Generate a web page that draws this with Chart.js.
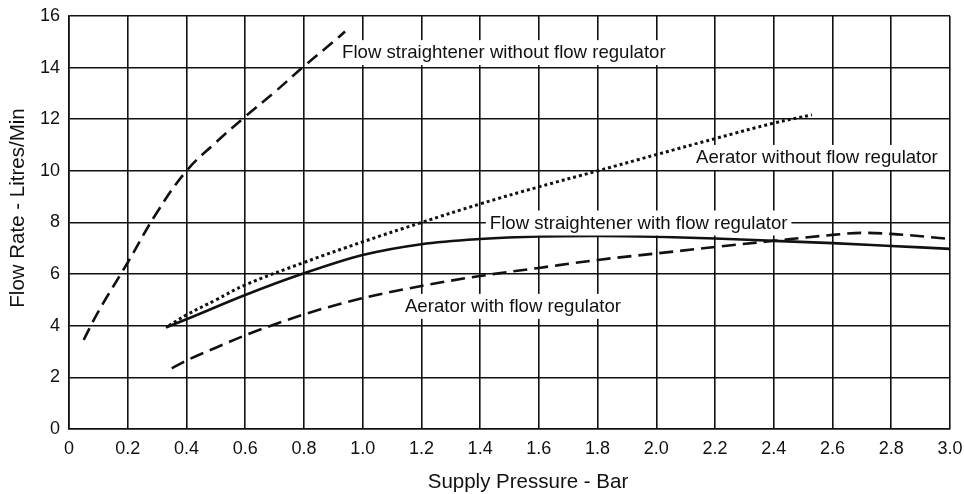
<!DOCTYPE html>
<html lang="en">
<head>
  <meta charset="utf-8">
  <title>Flow Rate vs Supply Pressure</title>
  <script src="https://cdn.jsdelivr.net/npm/chart.js@4.4.1/dist/chart.umd.min.js"></script>
  <style>
    html, body { margin: 0; padding: 0; background: #fff; }
    #wrap { width: 964px; height: 494px; }
  </style>
</head>
<body>
<div id="wrap"><canvas id="flowChart" width="964" height="494"></canvas></div>

<script type="text/javascript">
// values (x = supply pressure in bar, y = flow rate in l/min)
var fsNoRegX = [0.05, 0.1, 0.2, 0.3, 0.4, 0.5, 0.6, 0.7, 0.8, 0.9, 0.94];
var fsNoRegY = [3.45, 4.55, 6.45, 8.4, 10.0, 11.1, 12.1, 13.05, 14.05, 15.0, 15.4];

var aeNoRegX = [0.34, 0.4, 0.5, 0.6, 0.8, 1.0, 1.2, 1.4, 1.6, 1.8, 2.0, 2.2, 2.4, 2.53];
var aeNoRegY = [4.0, 4.42, 5.0, 5.58, 6.45, 7.25, 8.0, 8.72, 9.38, 10.0, 10.63, 11.25, 11.85, 12.17];

var fsRegX = [0.33, 0.4, 0.6, 0.8, 1.0, 1.2, 1.4, 1.6, 1.8, 2.0, 2.2, 2.4, 2.6, 2.8, 3.0];
var fsRegY = [3.93, 4.25, 5.19, 6.03, 6.74, 7.16, 7.36, 7.46, 7.48, 7.45, 7.38, 7.29, 7.2, 7.09, 6.98];

var aeRegX = [0.35, 0.4, 0.5, 0.6, 0.8, 1.0, 1.2, 1.4, 1.6, 1.8, 2.0, 2.2, 2.4, 2.6, 2.7, 2.8, 3.0];
var aeRegY = [2.35, 2.65, 3.15, 3.63, 4.44, 5.07, 5.54, 5.93, 6.24, 6.55, 6.8, 7.05, 7.29, 7.52, 7.6, 7.56, 7.36];

var xTicks = [0, 0.2, 0.4, 0.6, 0.8, 1.0, 1.2, 1.4, 1.6, 1.8, 2.0, 2.2, 2.4, 2.6, 2.8, 3.0];
var yTicks = [0, 2, 4, 6, 8, 10, 12, 14, 16];

// curve labels: text, anchor x/y in data units (left edge, vertical middle)
var labelText = ['Flow straightener without flow regulator', 'Aerator without flow regulator',
                 'Flow straightener with flow regulator', 'Aerator with flow regulator'];
var labelX = [0.93, 2.135, 1.433, 1.144];
var labelY = [14.6, 10.54, 8.0, 4.77];

var xTitle = 'Supply Pressure - Bar';
var yTitle = 'Flow Rate - Litres/Min';

function pts(xs, ys) {
    return xs.map(function (x, i) { return { x: x, y: ys[i] }; });
}

var ink = '#111';
var fontFam = '"Liberation Sans", Arial, Helvetica, sans-serif';

var curveLabels = {
    id: 'curveLabels',
    afterDatasetsDraw: function (chart) {
        var ctx = chart.ctx, xs = chart.scales.x, ys = chart.scales.y;
        ctx.save();
        ctx.font = '18.6px ' + fontFam;
        ctx.textBaseline = 'middle';
        ctx.textAlign = 'left';
        for (var i = 0; i < labelText.length; i++) {
            var px = xs.getPixelForValue(labelX[i]);
            var py = ys.getPixelForValue(labelY[i]);
            var w = ctx.measureText(labelText[i]).width;
            ctx.fillStyle = '#fff';
            ctx.fillRect(px - 4, py - 12, w + 8, 25);
            ctx.fillStyle = ink;
            ctx.fillText(labelText[i], px, py + 1);
        }
        // axis titles
        ctx.font = '20.5px ' + fontFam;
        ctx.textAlign = 'center';
        ctx.fillText(xTitle, 528, 482);
        ctx.translate(18, 208);
        ctx.rotate(-Math.PI / 2);
        ctx.fillText(yTitle, 0, 0);
        ctx.restore();
    }
};

var ctx = document.getElementById('flowChart').getContext('2d');

new Chart(ctx, {
    type: 'line',
    data: {
        datasets: [
            {
                label: labelText[0],
                data: pts(fsNoRegX, fsNoRegY),
                borderColor: ink,
                borderWidth: 2.6,
                borderDash: [13, 7],
                pointRadius: 0,
                tension: 0.4,
                fill: false
            },
            {
                label: labelText[1],
                data: pts(aeNoRegX, aeNoRegY),
                borderColor: ink,
                borderWidth: 3,
                borderDash: [3, 3],
                pointRadius: 0,
                tension: 0.4,
                fill: false
            },
            {
                label: labelText[2],
                data: pts(fsRegX, fsRegY),
                borderColor: ink,
                borderWidth: 2.6,
                pointRadius: 0,
                cubicInterpolationMode: 'monotone',
                fill: false
            },
            {
                label: labelText[3],
                data: pts(aeRegX, aeRegY),
                borderColor: ink,
                borderWidth: 2.6,
                borderDash: [14, 7],
                pointRadius: 0,
                cubicInterpolationMode: 'monotone',
                fill: false
            }
        ]
    },
    options: {
        responsive: false,
        animation: false,
        layout: { padding: { top: 16, right: 14, left: 0, bottom: 0 } },
        plugins: {
            legend: { display: false },
            tooltip: { enabled: false }
        },
        scales: {
            x: {
                type: 'linear',
                min: 0,
                max: 3.0,
                afterBuildTicks: function (s) { s.ticks = xTicks.map(function (v) { return { value: v }; }); },
                afterFit: function (s) {
                    s.height = 65;
                    s.paddingLeft = 0;
                    s.paddingRight = 0;
                },
                ticks: {
                    color: ink,
                    font: { size: 18, family: fontFam },
                    padding: 9,
                    maxRotation: 0,
                    callback: function (v) { return v === 0 ? '0' : Number(v).toFixed(1); }
                },
                grid: { color: ink, lineWidth: 1.6, drawTicks: false },
                border: { color: ink, width: 1.6 }
            },
            y: {
                type: 'linear',
                min: 0,
                max: 16,
                afterBuildTicks: function (s) { s.ticks = yTicks.map(function (v) { return { value: v }; }); },
                afterFit: function (s) {
                    s.width = 69;
                    s.paddingTop = 0;
                    s.paddingBottom = 0;
                },
                ticks: {
                    color: ink,
                    font: { size: 18, family: fontFam },
                    padding: 9
                },
                grid: { color: ink, lineWidth: 1.6, drawTicks: false },
                border: { color: ink, width: 1.6 }
            }
        }
    },
    plugins: [curveLabels]
});
</script>
</body>
</html>
